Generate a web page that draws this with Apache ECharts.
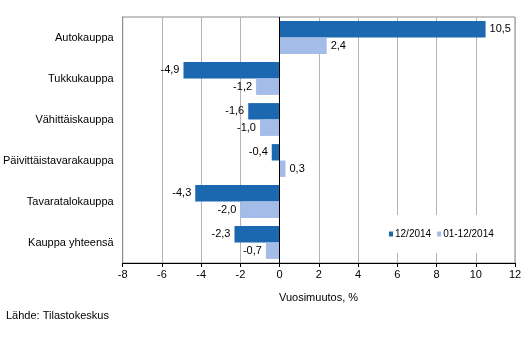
<!DOCTYPE html>
<html><head><meta charset="utf-8">
<script src="https://cdn.jsdelivr.net/npm/echarts@6/dist/echarts.min.js"></script>
<style>html,body{margin:0;padding:0;background:#fff}#c{width:529px;height:356px}</style>
</head><body><div id="c"></div>
<script>
var categories = ['Autokauppa','Tukkukauppa','Vähittäiskauppa','Päivittäistavarakauppa','Tavaratalokauppa','Kauppa yhteensä'];
var seriesNames = ['12/2014','01-12/2014'];
var month = [10.5, -4.9, -1.6, -0.4, -4.3, -2.3];
var year = [2.4, -1.2, -1.0, 0.3, -2.0, -0.7];
var xTicks = {min: -8, max: 12, interval: 2};
var axisTitle = 'Vuosimuutos, %';
var source = 'Lähde: Tilastokeskus';

var font = 'Liberation Sans, Arial, sans-serif';
var chart = echarts.init(document.getElementById('c'));
function lbl(p){ return p.value.toFixed(1).replace('.', ','); }
function mk(name, data, color, withZero){
  var s = {
    name: name, type: 'bar', barGap: '0%', barCategoryGap: '20%',
    itemStyle: {color: color},
    label: {show: true, position: 'right', formatter: lbl, color: '#000', fontFamily: font, fontSize: 11, distance: 4}
  };
  s.data = data.map(function(v){
    return {value: v, label: {position: v < 0 ? 'left' : 'right'}};
  });
  if (withZero) {
    s.markLine = {silent: true, symbol: 'none', label: {show: false},
      lineStyle: {color: '#000', width: 1, type: 'solid'}, data: [{xAxis: 0}], animation: false};
  }
  return s;
}
chart.setOption({
  animation: false,
  grid: {left: 122, right: 14, top: 17, bottom: 93, show: true, borderColor: '#888', borderWidth: 1},
  legend: {
    data: seriesNames, left: 380, top: 215, itemWidth: 4, itemHeight: 5, itemGap: 6,
    backgroundColor: '#fff', padding: [14, 9, 14, 9],
    icon: 'rect',
    textStyle: {fontFamily: font, fontSize: 10, color: '#000', padding: [0, 0, 0, -3]}
  },
  xAxis: {
    type: 'value', min: xTicks.min, max: xTicks.max, interval: xTicks.interval,
    axisLine: {show: true, onZero: false, lineStyle: {color: '#000'}},
    axisTick: {show: true, length: 4, lineStyle: {color: '#000'}},
    axisLabel: {color: '#000', fontFamily: font, fontSize: 11, margin: 6},
    splitLine: {show: true, lineStyle: {color: '#b4b4b4'}}
  },
  yAxis: {
    type: 'category', data: categories, inverse: true,
    axisLine: {show: true, onZero: false, lineStyle: {color: '#888'}},
    axisTick: {show: false},
    axisLabel: {color: '#000', fontFamily: font, fontSize: 11, margin: 9}
  },
  graphic: [
    {type: 'text', left: 279, top: 292, style: {text: axisTitle, fontFamily: font, fontSize: 11, fill: '#000'}},
    {type: 'text', left: 6, top: 310, style: {text: source, fontFamily: font, fontSize: 11, fill: '#000'}}
  ],
  series: [mk(seriesNames[0], month, '#1b67b0', true), mk(seriesNames[1], year, '#a4bce8', false)]
});
</script></body></html>
